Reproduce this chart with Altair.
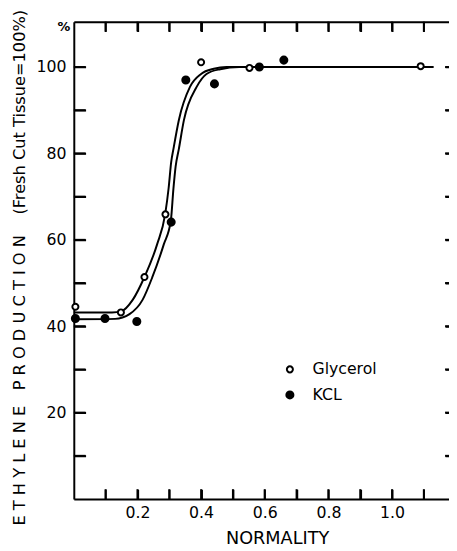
import altair as alt
import pandas as pd

# measured points
glycerol_x = [0.005, 0.148, 0.222, 0.288, 0.400, 0.552, 1.090]
glycerol_y = [44.5, 43.2, 51.4, 65.9, 101.1, 99.8, 100.2]
kcl_x = [0.005, 0.098, 0.198, 0.306, 0.352, 0.442, 0.583, 0.660]
kcl_y = [41.8, 41.8, 41.1, 64.1, 97.0, 96.1, 100.0, 101.6]

# fitted curves
glyc_curve_x = [0.0, 0.12, 0.15, 0.185, 0.222, 0.262, 0.287, 0.298, 0.306, 0.313, 0.330, 0.365, 0.400, 0.440, 0.480, 1.13]
glyc_curve_y = [43.2, 43.2, 43.5, 46.1, 51.4, 59.0, 65.9, 72.0, 78.0, 81.0, 87.7, 95.4, 98.4, 99.6, 100.0, 100.0]
kcl_curve_x = [0.0, 0.13, 0.175, 0.216, 0.247, 0.283, 0.305, 0.313, 0.320, 0.330, 0.346, 0.386, 0.417, 0.460, 0.520, 1.13]
kcl_curve_y = [41.6, 41.7, 42.8, 46.1, 51.4, 59.0, 64.5, 71.8, 77.0, 81.0, 87.7, 95.4, 98.4, 99.5, 100.0, 100.0]

series_names = ["Glycerol", "KCL"]
x_ticks = [0.1, 0.2, 0.3, 0.4, 0.5, 0.6, 0.7, 0.8, 0.9, 1.0, 1.1]
y_ticks = [10, 20, 30, 40, 50, 60, 70, 80, 90, 100]
pct_label = ["%"]

W, H = 382, 486
X_MAX, Y_MAX = 1.179, 110.5
FONT = "DejaVu Sans"

pts = pd.DataFrame({
    "x": glycerol_x + kcl_x,
    "y": glycerol_y + kcl_y,
    "series": ["Glycerol"] * len(glycerol_x) + ["KCL"] * len(kcl_x),
})

rows = []
for name, cx, cy in (("Glycerol", glyc_curve_x, glyc_curve_y), ("KCL", kcl_curve_x, kcl_curve_y)):
    for i, (a, b) in enumerate(zip(cx, cy)):
        rows.append({"g": name, "order": i, "x": a, "y": b})
curve_df = pd.DataFrame(rows)
xt = pd.DataFrame({"t": x_ticks})
yt = pd.DataFrame({"t": y_ticks})
pct = pd.DataFrame({"s": pct_label})

xs = alt.Scale(domain=[0, X_MAX], nice=False, zero=False)
ys = alt.Scale(domain=[0, Y_MAX], nice=False, zero=False)

y_title = ("E T H Y L E N E\u00a0\u00a0\u00a0P R O D U C T I O N\u00a0\u00a0\u00a0\u00a0"
           "(Fresh Cut Tissue=100%)")

x_axis = alt.Axis(orient="bottom", values=x_ticks,
                  labelExpr="(round(datum.value * 10) % 2 == 0) ? format(datum.value, '.1f') : ''",
                  title="NORMALITY", ticks=False, tickSize=0,
                  grid=True, gridColor="black", gridWidth=2, gridOpacity=1,
                  gridDash=[10, H - 20, 10],
                  domainColor="black", domainWidth=2, labelFontSize=16,
                  labelColor="black", labelPadding=6, labelFont=FONT, titleFont=FONT,
                  titleFontSize=18, titleFontWeight="normal", titleColor="black",
                  titleX=207, titleY=45, titleAlign="center", titleBaseline="alphabetic")
y_axis = alt.Axis(orient="left", values=y_ticks + [Y_MAX],
                  labelExpr="(datum.value % 20 == 0) ? datum.label : ''",
                  title=y_title, ticks=False, tickSize=0,
                  grid=True, gridColor="black", gridWidth=2, gridOpacity=1,
                  gridDash={"condition": {"test": "datum.value > 110", "value": [W, 0]},
                            "value": [12, W - 16, 4]},
                  domainColor="black", domainWidth=2, labelFontSize=16, labelColor="black",
                  labelPadding=8, labelFont=FONT, titleFont=FONT, titleFontSize=16.5,
                  titleFontWeight="normal", titleColor="black", titleX=-50, titleY=250,
                  titleAngle=270, titleAlign="center", titleBaseline="alphabetic",
                  titleLimit=600)

lines = alt.Chart(curve_df).mark_line(interpolate="monotone", color="black", strokeWidth=2).encode(
    x=alt.X("x:Q", scale=xs, axis=x_axis),
    y=alt.Y("y:Q", scale=ys, axis=y_axis),
    detail="g:N", order="order:Q")

# inward tick marks (tick mark type), positioned from the tick lists through the scales
bt = alt.Chart(xt).mark_tick(orient="vertical", size=10, thickness=2, color="black", opacity=1).encode(
    x=alt.X("t:Q", scale=xs, axis=x_axis), y=alt.value(H - 5))
tt = alt.Chart(xt).mark_tick(orient="vertical", size=10, thickness=2, color="black", opacity=1).encode(
    x=alt.X("t:Q", scale=xs, axis=x_axis), y=alt.value(5))
lt = alt.Chart(yt).mark_tick(orient="horizontal", size=12, thickness=2, color="black", opacity=1).encode(
    y=alt.Y("t:Q", scale=ys, axis=y_axis), x=alt.value(6))
rt = alt.Chart(yt).mark_tick(orient="horizontal", size=4, thickness=2, color="black", opacity=1).encode(
    y=alt.Y("t:Q", scale=ys, axis=y_axis), x=alt.value(W - 2))

leg = alt.Legend(title=None, orient="none", legendX=212, legendY=346,
                 labelFontSize=16, labelColor="black", labelFont=FONT,
                 labelOffset=15, rowPadding=10, padding=0,
                 symbolStrokeColor="black", symbolStrokeWidth=2, symbolType="circle")

points = alt.Chart(pts).mark_point(filled=True, strokeWidth=2, opacity=1, shape="circle").encode(
    x=alt.X("x:Q", scale=xs, axis=x_axis),
    y=alt.Y("y:Q", scale=ys, axis=y_axis),
    fill=alt.Fill("series:N", scale=alt.Scale(domain=series_names, range=["white", "black"]), legend=leg),
    stroke=alt.Stroke("series:N", scale=alt.Scale(domain=series_names, range=["black", "black"]), legend=leg),
    size=alt.Size("series:N", scale=alt.Scale(domain=series_names, range=[38, 52]), legend=leg),
)

pct_text = alt.Chart(pct).mark_text(font=FONT, fontSize=13, fontWeight="bold", color="black",
                                    align="center", baseline="middle").encode(
    text="s:N", x=alt.value(-10), y=alt.value(5))

chart = alt.layer(lines, bt, tt, lt, rt, pct_text, points).properties(
    width=W, height=H,
    padding={"left": 67, "top": 9, "right": 0, "bottom": 48},
    autosize=alt.AutoSizeParams(type="none"),
).configure_view(stroke=None).configure(font=FONT)

chart.save("out.html", embed_options={"renderer": "svg", "actions": False})
